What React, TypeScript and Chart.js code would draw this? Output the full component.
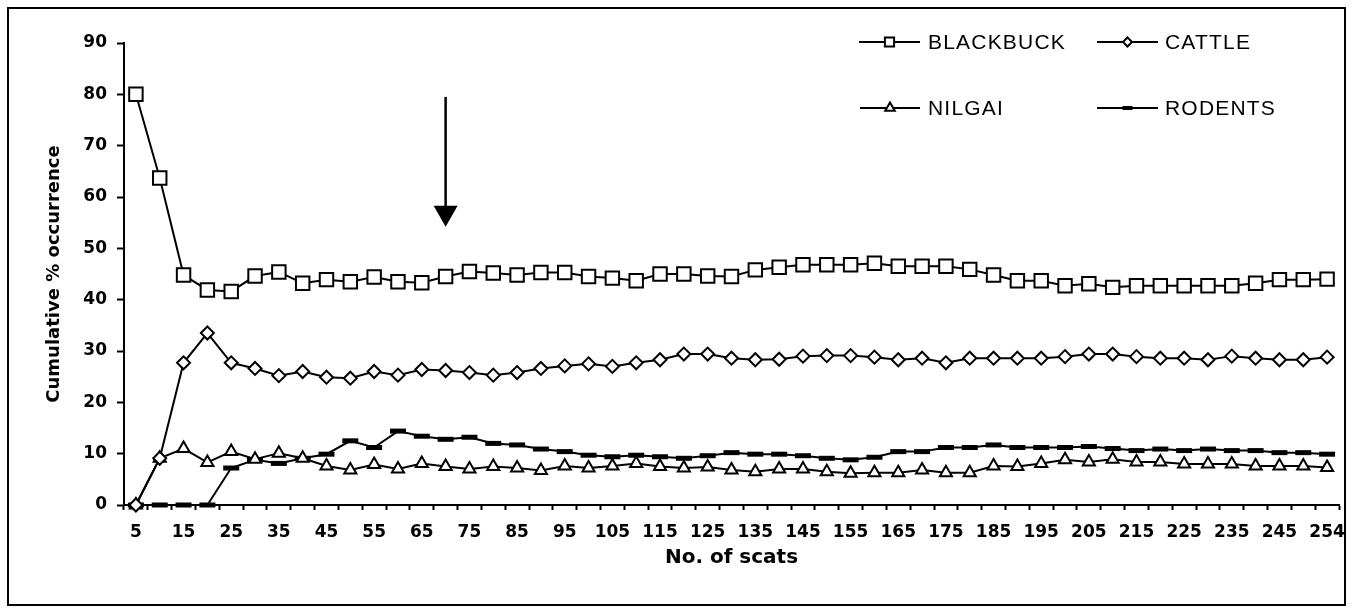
import React, { useEffect, useRef } from 'react';
import { Chart, registerables } from 'chart.js';
import { drawPoint } from 'chart.js/helpers';

Chart.register(...registerables);

const CATEGORIES = [
  5, 10, 15, 20, 25, 30, 35, 40, 45, 50,
  55, 60, 65, 70, 75, 80, 85, 90, 95, 100,
  105, 110, 115, 120, 125, 130, 135, 140, 145, 150,
  155, 160, 165, 170, 175, 180, 185, 190, 195, 200,
  205, 210, 215, 220, 225, 230, 235, 240, 245, 250,
  254,
];

const BLACKBUCK = [
  80.0, 63.7, 44.8, 41.9, 41.6, 44.6, 45.4, 43.2, 43.9, 43.5,
  44.4, 43.5, 43.3, 44.5, 45.5, 45.2, 44.8, 45.3, 45.3, 44.5,
  44.2, 43.7, 45.0, 45.0, 44.6, 44.5, 45.8, 46.3, 46.8, 46.8,
  46.8, 47.1, 46.5, 46.5, 46.5, 45.9, 44.8, 43.7, 43.7, 42.7,
  43.1, 42.4, 42.7, 42.7, 42.7, 42.7, 42.7, 43.2, 43.9, 43.9,
  44.0,
];

const CATTLE = [
  0, 9.1, 27.7, 33.5, 27.7, 26.6, 25.2, 26.0, 24.9, 24.7,
  26.0, 25.3, 26.4, 26.2, 25.8, 25.3, 25.8, 26.6, 27.1, 27.5,
  27.0, 27.7, 28.3, 29.4, 29.4, 28.6, 28.3, 28.4, 29.0, 29.1,
  29.1, 28.8, 28.3, 28.6, 27.7, 28.6, 28.6, 28.6, 28.6, 28.9,
  29.4, 29.4, 28.9, 28.6, 28.6, 28.3, 29.0, 28.6, 28.3, 28.3,
  28.8,
];

const NILGAI = [
  0, 9.1, 11.0, 8.3, 10.4, 8.9, 10.1, 9.1, 7.6, 6.8,
  7.9, 7.0, 8.1, 7.5, 7.0, 7.5, 7.2, 6.7, 7.6, 7.2,
  7.6, 8.1, 7.5, 7.2, 7.4, 6.8, 6.5, 7.0, 7.0, 6.5,
  6.2, 6.3, 6.3, 6.8, 6.3, 6.3, 7.6, 7.5, 8.1, 8.8,
  8.4, 8.9, 8.4, 8.4, 8.0, 8.0, 8.0, 7.6, 7.6, 7.6,
  7.3,
];

const RODENTS = [
  0, 0, 0, 0, 7.2, 8.8, 8.1, 9.1, 9.9, 12.5,
  11.2, 14.4, 13.4, 12.8, 13.2, 12.0, 11.7, 10.9, 10.4, 9.7,
  9.4, 9.7, 9.4, 9.1, 9.6, 10.2, 9.9, 9.9, 9.6, 9.1,
  8.8, 9.3, 10.4, 10.4, 11.2, 11.2, 11.7, 11.2, 11.2, 11.2,
  11.4, 11.0, 10.6, 10.9, 10.6, 10.9, 10.6, 10.6, 10.2, 10.2,
  9.9,
];

const SERIES_NAMES = ['BLACKBUCK', 'CATTLE', 'NILGAI', 'RODENTS'];
const Y_MIN = 0;
const Y_MAX = 90;
const Y_STEP = 10;

// arrow marking the point of saturation
const ARROW_CATEGORY = 70;
const ARROW_FROM_VALUE = 79.5;
const ARROW_TO_VALUE = 54.2;

const TICK_FONT = { family: '"DejaVu Sans", Verdana, sans-serif', size: 17, weight: 'bold' as const };

const framePlugin = {
  id: 'frame',
  afterDraw(chart: any) {
    const ctx = chart.ctx;
    ctx.save();
    ctx.strokeStyle = '#000';
    ctx.lineWidth = 2;
    ctx.strokeRect(8, 8, 1337, 597);
    ctx.restore();
  },
};

const arrowPlugin = {
  id: 'arrow',
  afterDatasetsDraw(chart: any) {
    const { ctx, scales } = chart;
    const idx = CATEGORIES.indexOf(ARROW_CATEGORY);
    const x = scales.x.getPixelForValue(idx);
    const y0 = scales.y.getPixelForValue(ARROW_FROM_VALUE);
    const y1 = scales.y.getPixelForValue(ARROW_TO_VALUE);
    const headLen = 21;
    const headHalf = 12;
    ctx.save();
    ctx.strokeStyle = '#000';
    ctx.fillStyle = '#000';
    ctx.lineWidth = 2.5;
    ctx.beginPath();
    ctx.moveTo(x, y0);
    ctx.lineTo(x, y1 - headLen + 2);
    ctx.stroke();
    ctx.beginPath();
    ctx.moveTo(x - headHalf, y1 - headLen);
    ctx.lineTo(x + headHalf, y1 - headLen);
    ctx.lineTo(x, y1);
    ctx.closePath();
    ctx.fill();
    ctx.restore();
  },
};

const LEGEND_LAYOUT = [
  { ds: 0, x1: 859, x2: 920, tx: 928, y: 42, r: 6.5 },
  { ds: 1, x1: 1097, x2: 1158, tx: 1165, y: 42, r: 4.5 },
  { ds: 2, x1: 860, x2: 920, tx: 928, y: 108, r: 5.5 },
  { ds: 3, x1: 1097, x2: 1158, tx: 1165, y: 108, r: 5 },
];

const legendPlugin = {
  id: 'insideLegend',
  afterDraw(chart: any) {
    const ctx = chart.ctx;
    ctx.save();
    LEGEND_LAYOUT.forEach((e) => {
      const ds = chart.data.datasets[e.ds];
      ctx.strokeStyle = '#000';
      ctx.lineWidth = 2;
      ctx.beginPath();
      ctx.moveTo(e.x1, e.y);
      ctx.lineTo(e.x2, e.y);
      ctx.stroke();
      ctx.fillStyle = ds.pointBackgroundColor;
      ctx.strokeStyle = '#000';
      ctx.lineWidth = ds.pointStyle === 'line' ? 4 : 2;
      drawPoint(ctx, { pointStyle: ds.pointStyle, radius: e.r, borderWidth: ctx.lineWidth, rotation: 0 } as any, (e.x1 + e.x2) / 2, e.y);
      ctx.fillStyle = '#000';
      ctx.font = '21px "Liberation Sans", Arial, sans-serif';
      (ctx as any).letterSpacing = '1.2px';
      ctx.textAlign = 'left';
      ctx.textBaseline = 'middle';
      ctx.fillText(ds.label, e.tx, e.y + 1);
    });
    ctx.restore();
  },
};

export default function App() {
  const ref = useRef<HTMLCanvasElement>(null);

  useEffect(() => {
    if (!ref.current) return;
    const common = {
      borderColor: '#000',
      borderWidth: 2,
      pointBorderColor: '#000',
      pointBackgroundColor: '#fff',
      pointBorderWidth: 2,
      tension: 0,
      clip: false as const,
    };
    const chart = new Chart(ref.current, {
      type: 'line',
      data: {
        labels: CATEGORIES.map(String),
        datasets: [
          { ...common, label: SERIES_NAMES[0], data: BLACKBUCK, pointStyle: 'rect', pointRadius: 9.5 },
          { ...common, label: SERIES_NAMES[1], data: CATTLE, pointStyle: 'rectRot', pointRadius: 6.5 },
          { ...common, label: SERIES_NAMES[2], data: NILGAI, pointStyle: 'triangle', pointRadius: 7 },
          { ...common, label: SERIES_NAMES[3], data: RODENTS, pointStyle: 'line', pointRadius: 8, pointBorderWidth: 5, pointBackgroundColor: '#000' },
        ],
      },
      options: {
        animation: false,
        responsive: false,
        maintainAspectRatio: false,
        devicePixelRatio: 1,
        layout: { padding: { left: 0, right: 10, top: 43, bottom: 0 } },
        plugins: {
          legend: { display: false },
          tooltip: { enabled: false },
        },
        scales: {
          x: {
            type: 'category',
            offset: true,
            grid: {
              display: true,
              drawOnChartArea: false,
              drawTicks: true,
              tickLength: 5,
              tickWidth: 2,
              tickColor: '#000',
              offset: true,
            },
            border: { display: true, color: '#000', width: 2 },
            ticks: {
              autoSkip: false,
              maxRotation: 0,
              minRotation: 0,
              padding: 12,
              color: '#000',
              font: TICK_FONT,
              callback: (_v: any, i: number) => (i % 2 === 0 ? String(CATEGORIES[i]) : ''),
            },
            title: {
              display: true,
              text: 'No. of scats',
              color: '#000',
              font: { family: '"DejaVu Sans", Verdana, sans-serif', size: 20, weight: 'bold' },
              padding: { top: 0, bottom: 38 },
            },
            afterFit: (s: any) => {
              s.height = 103;
              s.paddingLeft = 0;
              s.paddingRight = 0;
            },
          },
          y: {
            min: Y_MIN,
            max: Y_MAX,
            grid: {
              display: true,
              drawOnChartArea: false,
              drawTicks: true,
              tickLength: 7,
              tickWidth: 2,
              tickColor: '#000',
            },
            border: { display: true, color: '#000', width: 2 },
            ticks: {
              stepSize: Y_STEP,
              padding: 10,
              color: '#000',
              font: TICK_FONT,
            },
            title: {
              display: true,
              text: 'Cumulative % occurrence',
              color: '#000',
              font: { family: '"DejaVu Sans", Verdana, sans-serif', size: 18, weight: 'bold' },
              padding: { top: 44, bottom: 0 },
            },
            afterFit: (s: any) => {
              s.width = 124;
            },
          },
        },
      },
      plugins: [framePlugin, arrowPlugin, legendPlugin],
    });
    return () => chart.destroy();
  }, []);

  return (
    <div style={{ position: 'absolute', left: 0, top: 0, width: 1352, height: 608, background: '#fff' }}>
      <canvas ref={ref} width={1352} height={608} style={{ display: 'block', width: 1352, height: 608 }} />
    </div>
  );
}
